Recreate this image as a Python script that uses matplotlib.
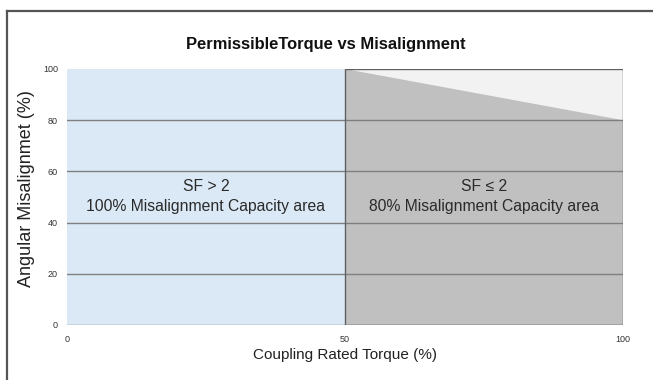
import matplotlib
matplotlib.use('Agg')
import matplotlib.pyplot as plt
from matplotlib.patches import Polygon, Rectangle
from matplotlib.lines import Line2D

# torque (%) and permissible misalignment (%) boundaries
torque_ticks = [0, 50, 100]
misalign_ticks = [0, 20, 40, 60, 80, 100]
full_zone_x = [0, 50]
full_zone_y = 100
reduced_zone_x = [50, 100]
reduced_zone_y = [100, 80]

zone_labels = ['SF > 2\n100% Misalignment Capacity area',
               'SF \u2264 2\n80% Misalignment Capacity area']

plain = ['Liberation Sans', 'DejaVu Sans']

W, H = 653, 380
fig = plt.figure(figsize=(W / 100, H / 100), dpi=100)
ax = fig.add_axes([67 / W, 1 - 325 / H, 556 / W, 256 / H])

# outer frame (open to the right and bottom)
fig.add_artist(Line2D([7 / W, 7 / W], [0, 1 - 11 / H],
                      transform=fig.transFigure, color='#555555', lw=1.6))
fig.add_artist(Line2D([7 / W, 1], [1 - 11 / H, 1 - 11 / H],
                      transform=fig.transFigure, color='#555555', lw=1.6))

# 100% capacity zone
ax.add_patch(Rectangle((full_zone_x[0], 0), full_zone_x[1] - full_zone_x[0],
                       full_zone_y, facecolor='#dbe9f6', edgecolor='none',
                       zorder=1))
# area above the reduced limit
ax.add_patch(Rectangle((reduced_zone_x[0], 0),
                       reduced_zone_x[1] - reduced_zone_x[0], 100,
                       facecolor='#f2f2f2', edgecolor='none', zorder=1))
# reduced capacity zone
ax.add_patch(Polygon([(reduced_zone_x[0], 0),
                      (reduced_zone_x[0], reduced_zone_y[0]),
                      (reduced_zone_x[1], reduced_zone_y[1]),
                      (reduced_zone_x[1], 0)],
                     closed=True, facecolor='#c0c0c0', edgecolor='none',
                     zorder=2))
ax.add_patch(Rectangle((reduced_zone_x[0], 0),
                       reduced_zone_x[1] - reduced_zone_x[0], 100,
                       facecolor='none', edgecolor='#606060', lw=1.0,
                       zorder=4))

for y in misalign_ticks[:-1]:
    ax.axhline(y, color='#7f7f7f', lw=1.0, zorder=3)

label_y = (325 - 196.5) / 256 * 100
ax.text(25, label_y, zone_labels[0], ha='center', va='center', fontsize=11.3,
        family=plain, color='#2a2a2a', linespacing=1.45, zorder=5)
ax.text(75, label_y, zone_labels[1], ha='center', va='center', fontsize=11.3,
        family=plain, color='#2a2a2a', linespacing=1.45, zorder=5)

ax.set_xlim(0, 100)
ax.set_ylim(0, 100)
ax.set_xticks(torque_ticks)
ax.set_yticks(misalign_ticks)
for s in ax.spines.values():
    s.set_visible(False)
ax.tick_params(length=0, labelsize=6.5, colors='#333333')
ax.tick_params(axis='x', pad=7)
ax.tick_params(axis='y', pad=6.5)
for lbl in ax.get_xticklabels() + ax.get_yticklabels():
    lbl.set_family(plain)

ax.set_xlabel('Coupling Rated Torque (%)', fontsize=11, family=plain,
              color='#222222')
ax.xaxis.set_label_coords(0.5, -(355 - 325) / 256)
ax.set_ylabel('Angular Misalignmet (%)', fontsize=13, family=plain,
              color='#222222')
ax.yaxis.set_label_coords(-(67 - 27) / 556, (325 - 189) / 256)
ax.yaxis.label.set_va('center')
ax.xaxis.label.set_va('center')
fig.text(326 / W, 1 - 45 / H, 'PermissibleTorque vs Misalignment',
         ha='center', va='center', fontsize=11.9, fontweight='bold',
         family=plain, color='#111111')

fig.savefig('out.png', dpi=100)
